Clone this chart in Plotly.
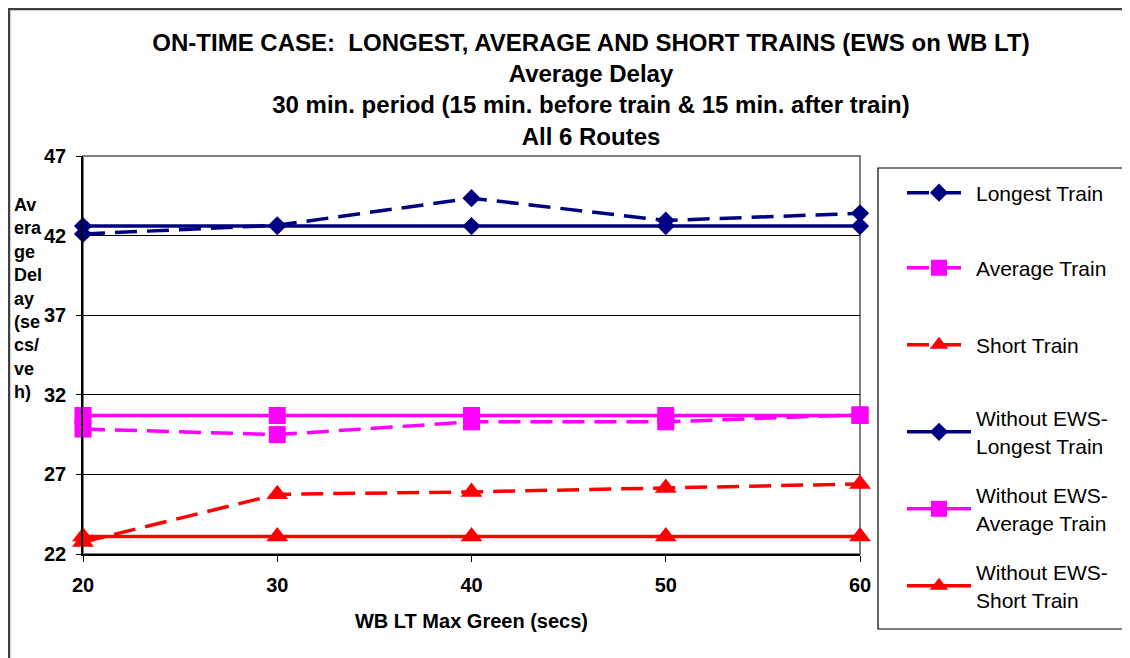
import plotly.graph_objects as go

green_secs = [20, 30, 40, 50, 60]

longest_ews = [42.1, 42.65, 44.35, 42.95, 43.4]
average_ews = [29.85, 29.5, 30.3, 30.3, 30.75]
short_ews = [22.75, 25.75, 25.9, 26.15, 26.4]
longest_no_ews = [42.6, 42.6, 42.6, 42.6, 42.6]
average_no_ews = [30.7, 30.7, 30.7, 30.7, 30.7]
short_no_ews = [23.1, 23.1, 23.1, 23.1, 23.1]

series_names = ["Longest Train", "Average Train", "Short Train",
                "Without EWS-<br>Longest Train", "Without EWS-<br>Average Train",
                "Without EWS-<br>Short Train"]

title_lines = ["ON-TIME CASE:  LONGEST, AVERAGE AND SHORT TRAINS (EWS on WB LT)",
               "Average Delay",
               "30 min. period (15 min. before train & 15 min. after train)",
               "All 6 Routes"]

# page body has an 8px margin, so the figure is drawn 8px in from the window
OFF = 8
W, H = 1130 - OFF, 658 - OFF
L, R, T, B = 83, 860, 156, 554   # plot area, window pixels

def px(x):
    return (x - L) / (R - L)

def py(y):
    return (B - y) / (B - T)

NAVY, MAGENTA, RED = "#000080", "#FF00FF", "#FF0000"
font = "Liberation Sans, Arial, sans-serif"
dash = "22px,10px"

traces = [
    (longest_ews, NAVY, "diamond", 14, dash),
    (average_ews, MAGENTA, "square", 17, dash),
    (short_ews, RED, "triangle-up", 19, dash),
    (longest_no_ews, NAVY, "diamond", 14, "solid"),
    (average_no_ews, MAGENTA, "square", 17, "solid"),
    (short_no_ews, RED, "triangle-up", 19, "solid"),
]
legend_y = [193, 268, 345, 432, 509, 586]

fig = go.Figure()
for i, (vals, col, sym, size, dsh) in enumerate(traces):
    leg = "legend" if i == 0 else "legend%d" % (i + 1)
    fig.add_trace(go.Scatter(
        x=green_secs, y=vals, name=series_names[i], mode="lines+markers",
        line=dict(color=col, width=3.5, dash=dsh),
        marker=dict(color=col, symbol=sym, size=size),
        cliponaxis=False, legend=leg))

layout_legends = {}
for i, yy in enumerate(legend_y):
    key = "legend" if i == 0 else "legend%d" % (i + 1)
    layout_legends[key] = dict(
        x=px(902), xanchor="left", y=py(yy), yanchor="middle",
        bgcolor="rgba(0,0,0,0)", borderwidth=0, itemwidth=64,
        font=dict(family=font, size=21, color="black"))

fig.update_layout(
    width=W, height=H,
    margin=dict(l=L - OFF, r=W - (R - OFF), t=T - OFF, b=H - (B - OFF)),
    paper_bgcolor="white", plot_bgcolor="white",
    showlegend=True,
    title=dict(text="<br>".join("<b>%s</b>" % s for s in title_lines),
               x=(591 - OFF) / W, xanchor="center", xref="container",
               y=1 - (51 - OFF) / H, yanchor="top",
               font=dict(family=font, size=24, color="black")),
    xaxis=dict(range=[20, 60], tickvals=green_secs, showgrid=False,
               showline=True, linecolor="black", linewidth=1.5,
               ticks="outside", ticklen=6, tickcolor="black",
               ticklabelstandoff=6,
               tickfont=dict(family=font, size=20, color="black", weight="bold"),
               title=dict(text="<b>WB LT Max Green (secs)</b>", standoff=19,
                          font=dict(family=font, size=20, color="black")),
               zeroline=False),
    yaxis=dict(range=[22, 47], dtick=5, tick0=22, showgrid=True,
               gridcolor="black", gridwidth=1,
               showline=True, linecolor="black", linewidth=1.5,
               ticks="outside", ticklen=5, tickcolor="black",
               ticklabelstandoff=6,
               tickfont=dict(family=font, size=20, color="black", weight="bold"),
               zeroline=False),
    shapes=[
        dict(type="rect", xref="paper", yref="paper", x0=0, x1=1, y0=0, y1=1,
             line=dict(color="#808080", width=2), layer="below"),
        dict(type="rect", xref="paper", yref="paper", x0=px(878), x1=px(1128),
             y0=py(629), y1=py(168), line=dict(color="black", width=1.2)),
        dict(type="rect", xref="paper", yref="paper", x0=px(OFF + 1), x1=px(1145),
             y0=py(675), y1=py(OFF + 1), line=dict(color="#404040", width=2.5)),
    ],
    annotations=[
        dict(text="<b>Av<br>era<br>ge<br>Del<br>ay<br>(se<br>cs/<br>ve<br>h)</b>",
             xref="paper", yref="paper", x=px(12), xanchor="left",
             y=py(298), yanchor="middle", align="left", showarrow=False,
             font=dict(family=font, size=18, color="black")),
    ],
    **layout_legends,
)

fig.write_html("out.html")
